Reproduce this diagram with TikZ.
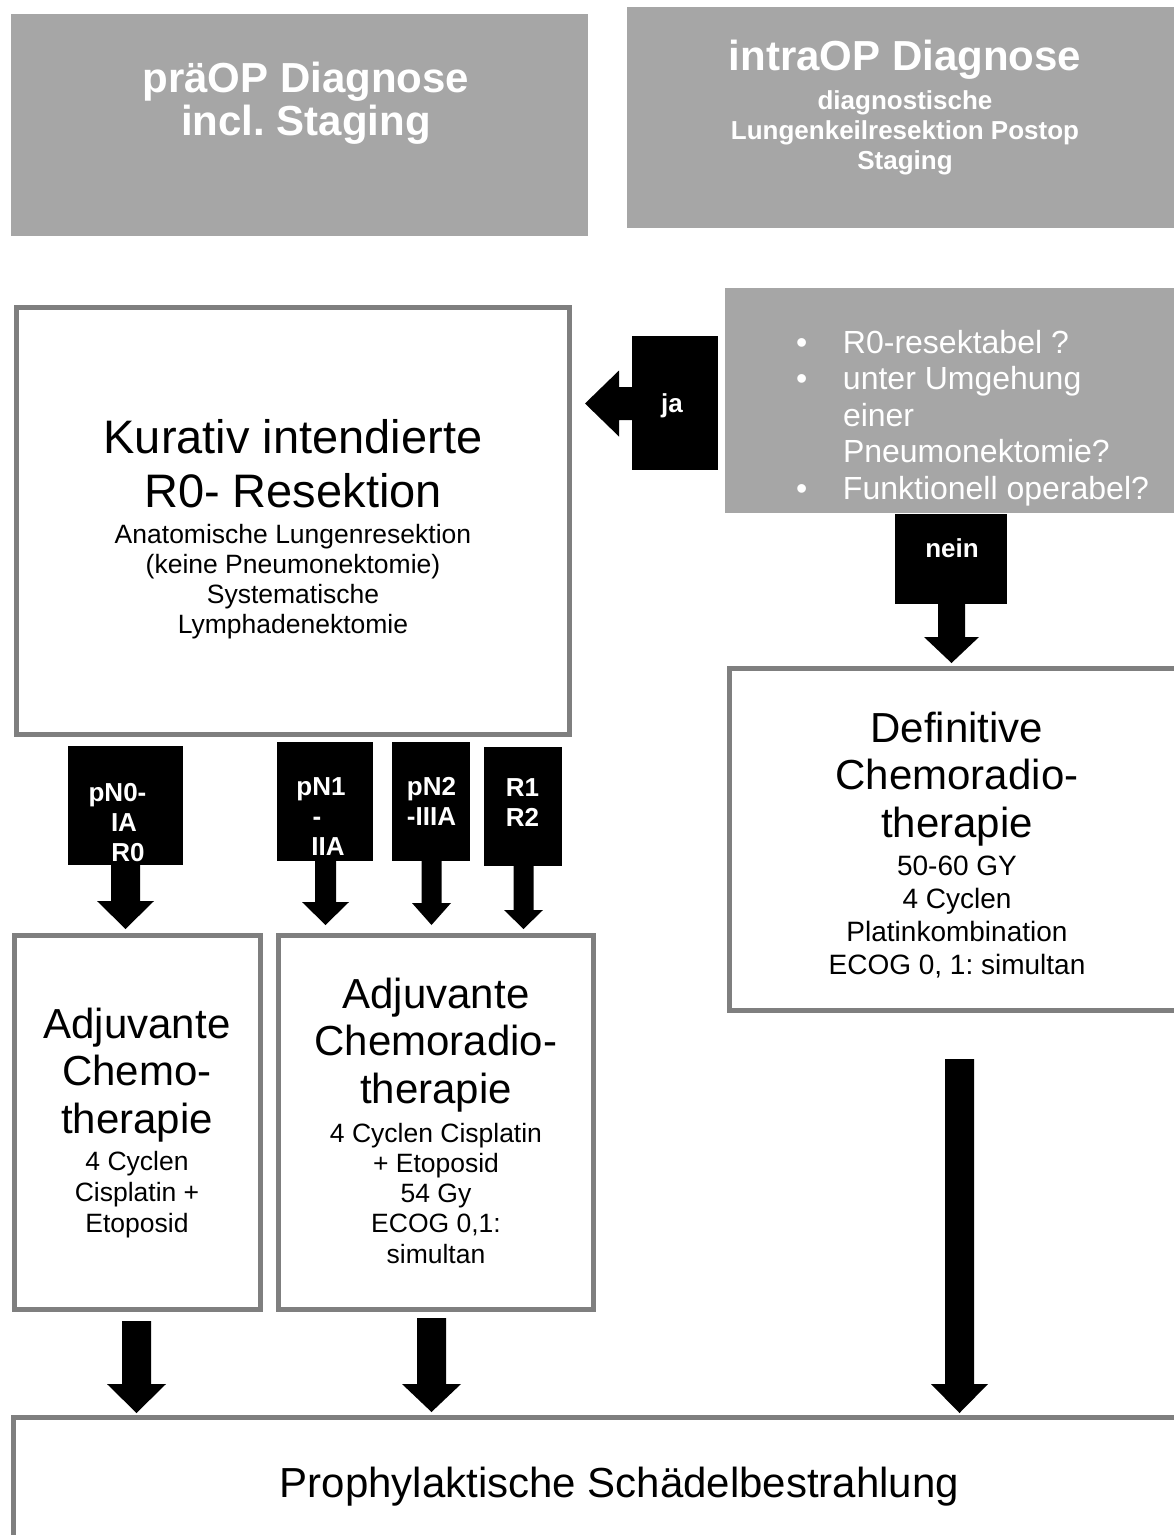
\documentclass[tikz,border=0pt]{standalone}
\usepackage{fontspec}
\setmainfont{Liberation Sans}
\usetikzlibrary{calc}
\frenchspacing

\definecolor{boxgray}{HTML}{A6A6A6}
\definecolor{edgegray}{HTML}{7F7F7F}

% centred block of lines whose reference point is the first baseline
\newcommand{\stack}[1]{\begin{tabular}[t]{@{}c@{}}#1\end{tabular}}
\newcommand{\fs}[2]{\fontsize{#1}{#2}\selectfont}

% block arrow pointing down: #1 start, #2 tip, #3 half stem width,
% #4 half head width, #5 head length
\newcommand{\blockdown}[5]{%
  \fill[black] let \p1=(#1), \p2=(#2) in
    (\x2-#3,\y1) -- (\x2-#3,\y2+#5) -- (\x2-#4,\y2+#5) -- (\x2,\y2)
    -- (\x2+#4,\y2+#5) -- (\x2+#3,\y2+#5) -- (\x2+#3,\y1) -- cycle;}

\begin{document}
\begin{tikzpicture}[x=1pt,y=-1pt,
  graybox/.style={fill=boxgray,draw=none,inner sep=0pt,outer sep=0pt},
  framebox/.style={fill=white,draw=edgegray,line width=5pt,inner sep=0pt,outer sep=0pt},
  tagbox/.style={fill=black,draw=none,inner sep=0pt,outer sep=0pt},
  txt/.style={anchor=base,inner sep=0pt,outer sep=0pt,text=black},
  wtxt/.style={txt,text=white},
  tagtxt/.style={wtxt,font=\fs{26}{30}\bfseries},
]
\useasboundingbox (0,0) rectangle (1174,1535);
\clip (0,0) rectangle (1174,1535);
\fill[white] (0,0) rectangle (1174,1535);

% ---- boxes ----
\node[graybox,minimum width=577pt,minimum height=222pt] (tl) at (299.5,125) {};
\node[graybox,minimum width=556pt,minimum height=221pt] (tr) at (905,117.5) {};
\node[framebox,minimum width=553pt,minimum height=427pt] (kur) at (293,521) {};
\node[graybox,minimum width=475pt,minimum height=225pt] (q) at (962.5,400.5) {};
\node[framebox,minimum width=455pt,minimum height=342pt] (def) at (957,839.5) {};
\node[framebox,minimum width=246pt,minimum height=374pt] (adc) at (137.5,1122.5) {};
\node[framebox,minimum width=315pt,minimum height=374pt] (adcr) at (436,1122.5) {};
\node[framebox,minimum width=1212pt,minimum height=200pt] (psb) at (619.5,1517.5) {};

% ---- labelled arrow bodies ----
\node[tagbox,minimum width=86pt,minimum height=134pt] (aja) at (675,403) {};
\node[tagbox,minimum width=112pt,minimum height=90pt] (anein) at (951,559) {};
\node[tagbox,minimum width=115pt,minimum height=119pt] (a1) at (125.5,805.5) {};
\node[tagbox,minimum width=96pt,minimum height=119pt] (a2) at (325,801.5) {};
\node[tagbox,minimum width=78pt,minimum height=119pt] (a3) at (431,801.5) {};
\node[tagbox,minimum width=78pt,minimum height=119pt] (a4) at (523,806.5) {};

% arrow tips and free starts
\coordinate (jatip) at (585,403.5);
\coordinate (tn) at (951.5,663);
\coordinate (t1) at (125.5,929);
\coordinate (t2) at (325.5,925);
\coordinate (t3) at (431.5,925);
\coordinate (t4) at (523.5,929);
\coordinate (s5) at (136.5,1321);
\coordinate (t5) at (136.5,1413);
\coordinate (s6) at (431.5,1318);
\coordinate (t6) at (431.5,1412);
\coordinate (s7) at (959.5,1059);
\coordinate (t7) at (959.5,1413);

% ---- arrows ----
\fill[black] let \p1=(aja.center), \p2=(jatip) in
  (\x1,\y2+16.5pt) -- (\x2+34pt,\y2+16.5pt) -- (\x2+34pt,\y2+33pt) -- (\x2,\y2)
  -- (\x2+34pt,\y2-33pt) -- (\x2+34pt,\y2-16.5pt) -- (\x1,\y2-16.5pt) -- cycle;
\blockdown{anein.center}{tn}{13.5pt}{27.5pt}{26pt}
\blockdown{a1.center}{t1}{14.5pt}{28.5pt}{28pt}
\blockdown{a2.center}{t2}{10.5pt}{23.5pt}{23pt}
\blockdown{a3.center}{t3}{10pt}{19.5pt}{22pt}
\blockdown{a4.center}{t4}{10pt}{19.5pt}{19pt}
\blockdown{s5}{t5}{14.5pt}{29.5pt}{29pt}
\blockdown{s6}{t6}{14.5pt}{29.5pt}{28pt}
\blockdown{s7}{t7}{14.5pt}{28.5pt}{29pt}

% ---- texts ----
\node[wtxt,font=\fs{42}{43}\bfseries] (tlT) at (306,92)
  {\stack{präOP Diagnose\\incl. Staging}};
\node[wtxt,font=\fs{42}{43}\bfseries] (trT) at (905,70) {intraOP Diagnose};
\node[wtxt,font=\fs{26}{30}\bfseries] (trD) at (905,109)
  {\stack{diagnostische\\Lungenkeilresektion Postop\\Staging}};

\node[txt,font=\fs{47}{54}] (kurT) at (293,453)
  {\stack{Kurativ intendierte\\R0- Resektion}};
\node[txt,font=\fs{26.5}{30}] (kurD) at (293,543)
  {\stack{Anatomische Lungenresektion\\(keine Pneumonektomie)\\Systematische\\Lymphadenektomie}};

\node[wtxt,anchor=base west,font=\fs{32}{36.5}] (qT) at (796,353)
  {\begin{tabular}[t]{@{}p{47pt}@{}l@{}}
   •&R0-resektabel ?\\
   •&unter Umgehung\\
    &einer\\
    &Pneumonektomie?\\
   •&Funktionell operabel?
   \end{tabular}};

\node[txt,font=\fs{42}{47.5}] (defT) at (957,742)
  {\stack{Definitive\\Chemoradio-\\therapie}};
\node[txt,font=\fs{28}{33.3}] (defD) at (957,875)
  {\stack{50-60 GY\\4 Cyclen\\Platinkombination\\ECOG 0, 1: simultan}};

\node[txt,font=\fs{42}{47.5}] (adcT) at (137,1038)
  {\stack{Adjuvante\\Chemo-\\therapie}};
\node[txt,font=\fs{26.5}{31}] (adcD) at (137,1170)
  {\stack{4 Cyclen\\Cisplatin +\\Etoposid}};

\node[txt,font=\fs{42}{47.5}] (adcrT) at (436,1008)
  {\stack{Adjuvante\\Chemoradio-\\therapie}};
\node[txt,font=\fs{26.5}{30.3}] (adcrD) at (436,1142)
  {\stack{4 Cyclen Cisplatin\\+ Etoposid\\54 Gy\\ECOG 0,1:\\simultan}};

\node[txt,font=\fs{42}{48}] (psbT) at (619.5,1497) {Prophylaktische Schädelbestrahlung};

% ---- arrow labels ----
\node[tagtxt] (jaT) at (672,412) {ja};
\node[tagtxt] (neinT) at (952,557) {nein};
\node[tagtxt] (a1T) at (124,801) {\stack{pN0-\hspace*{13pt}\\IA\\\hspace*{8pt}R0}};
\node[tagtxt] (a2T) at (325,795) {\stack{pN1\hspace*{8pt}\\-\hspace*{16pt}\\\hspace*{6pt}IIA}};
\node[tagtxt] (a3T) at (431.5,795) {\stack{pN2\\-IIIA}};
\node[tagtxt] (a4T) at (522.5,796) {\stack{R1\\R2}};
\end{tikzpicture}
\end{document}
